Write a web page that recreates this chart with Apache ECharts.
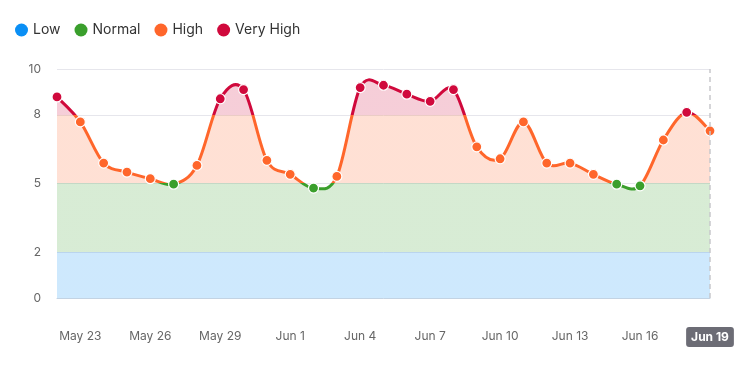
<!DOCTYPE html>
<html><head><meta charset="utf-8">
<script src="https://cdn.jsdelivr.net/npm/echarts@6/dist/echarts.min.js"></script>
<style>html,body{margin:0;padding:0;background:#fff}#c{width:754px;height:370px}</style>
</head><body><div id="c"></div>
<script>
const dates = ['May 22','May 23','May 24','May 25','May 26','May 27','May 28','May 29','May 30','May 31','Jun 1','Jun 2','Jun 3','Jun 4','Jun 5','Jun 6','Jun 7','Jun 8','Jun 9','Jun 10','Jun 11','Jun 12','Jun 13','Jun 14','Jun 15','Jun 16','Jun 17','Jun 18','Jun 19'];
const values = [8.78,7.69,5.89,5.50,5.21,4.97,5.79,8.70,9.10,6.01,5.40,4.80,5.31,9.19,9.29,8.90,8.59,9.10,6.60,6.08,7.69,5.89,5.89,5.40,4.97,4.90,6.90,8.11,7.30];
const yTicks = [0,2,5,8,10];
const thresholds = [2,5,8];
const levels = ['Low','Normal','High','Very High'];
const levelColors = ['#0a8ff5','#3a9f2c','#ff662b','#d0093c'];
const areaColors = ['rgba(10,143,245,0.2)','rgba(58,159,44,0.2)','rgba(255,102,43,0.2)','rgba(208,9,60,0.2)'];
const highlightDate = 'Jun 19';

function catmullPath(pts){
  let d = 'M' + pts[0][0] + ',' + pts[0][1];
  for (let i = 0; i < pts.length - 1; i++) {
    const p0 = pts[i-1] || pts[i], p1 = pts[i], p2 = pts[i+1], p3 = pts[i+2] || pts[i+1];
    const c1 = [p1[0] + (p2[0]-p0[0])/6, p1[1] + (p2[1]-p0[1])/6];
    const c2 = [p2[0] - (p3[0]-p1[0])/6, p2[1] - (p3[1]-p1[1])/6];
    d += ' C' + c1[0] + ',' + c1[1] + ' ' + c2[0] + ',' + c2[1] + ' ' + p2[0] + ',' + p2[1];
  }
  return d;
}
function bandGradient(api, colors){
  const yTop = api.coord([0, yTicks[yTicks.length-1]])[1];
  const yBot = api.coord([0, yTicks[0]])[1];
  const off = v => (api.coord([0, v])[1] - yTop) / (yBot - yTop);
  const o = thresholds.map(off);
  const stops = [
    {offset:0, color:colors[3]}, {offset:o[2], color:colors[3]},
    {offset:o[2], color:colors[2]}, {offset:o[1], color:colors[2]},
    {offset:o[1], color:colors[1]}, {offset:o[0], color:colors[1]},
    {offset:o[0], color:colors[0]}, {offset:1, color:colors[0]}
  ];
  return new echarts.graphic.LinearGradient(0, yTop, 0, yBot, stops, true);
}

const chart = echarts.init(document.getElementById('c'));
const FONT = 'Inter';
chart.setOption({
  animation:false,
  textStyle:{fontFamily:FONT},
  legend:{
    left:10, top:18, icon:'circle', itemWidth:13, itemHeight:13, itemGap:14,
    data:levels,
    textStyle:{fontSize:14, color:'#333', fontFamily:FONT}
  },
  grid:{left:57, right:44, top:69, bottom:72},
  xAxis:{
    type:'category', data:dates, boundaryGap:false,
    axisLine:{lineStyle:{color:'#c3d3e3'}},
    axisTick:{show:false},
    axisLabel:{
      margin:32, fontSize:12, color:'#666', fontFamily:FONT,
      interval:(i)=> (i-1)%3===0,
      formatter:(v)=> v===highlightDate ? '{hl|'+v+'}' : v,
      rich:{hl:{backgroundColor:'#6c6c75', color:'#fff', fontWeight:'bold', lineHeight:14, padding:[4,5,4,5], borderRadius:3, fontSize:12, fontFamily:FONT}}
    }
  },
  yAxis:{
    type:'value', min:0, max:10,
    axisLine:{show:false}, axisTick:{show:false, customValues:yTicks},
    axisLabel:{customValues:yTicks, margin:16, fontSize:12, color:'#666', fontFamily:FONT},
    splitLine:{lineStyle:{color:'#e6e6ec'}}
  },
  visualMap:{
    type:'piecewise', show:false, dimension:1, seriesIndex:1,
    pieces:[
      {lt:2, color:levelColors[0]},
      {gte:2, lt:5, color:levelColors[1]},
      {gte:5, lt:8, color:levelColors[2]},
      {gte:8, color:levelColors[3]}
    ]
  },
  series:[
    {
      type:'custom', z:2, silent:true,
      data: values.map((v,i)=>[i,v]),
      encode:{x:0, y:1},
      renderItem:(params, api)=>{
        if (params.dataIndex !== 0) return null;
        const pts = values.map((v,i)=>api.coord([i,v]));
        const y0 = api.coord([0,0])[1];
        const lineD = catmullPath(pts);
        const areaD = lineD + ' L' + pts[pts.length-1][0] + ',' + y0 + ' L' + pts[0][0] + ',' + y0 + ' Z';
        return {type:'group', children:[
          {type:'path', shape:{pathData:areaD}, style:{fill:bandGradient(api, areaColors), stroke:null}},
          {type:'path', shape:{pathData:lineD}, style:{fill:'none', stroke:bandGradient(api, levelColors), lineWidth:3}}
        ]};
      }
    },
    {
      type:'line', z:3, data:values,
      symbol:'circle', symbolSize:10, showSymbol:true,
      lineStyle:{opacity:0},
      itemStyle:{borderColor:'#fff', borderWidth:1.2},
      markLine:{
        silent:true, symbol:['none','none'], label:{show:false},
        lineStyle:{color:'#c8c8cc', type:[5,4], width:1.5},
        data:[{xAxis:highlightDate}]
      }
    },
    ...levels.map((n,i)=>({name:n, type:'line', data:[], itemStyle:{color:levelColors[i]}}))
  ]
});
</script></body></html>
